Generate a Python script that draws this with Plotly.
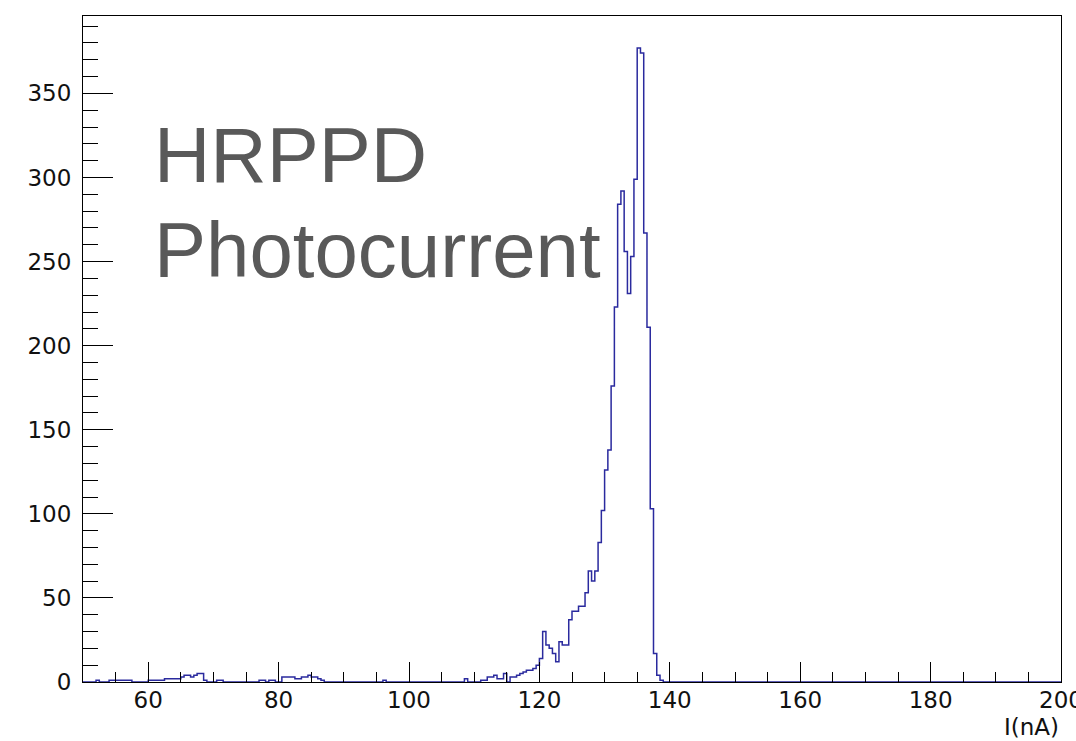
import numpy as np
import plotly.graph_objects as go

# ---- data: histogram of photocurrent, 0.5 nA bins from 50 to 200 ----
x_min, x_max, bin_width = 50.0, 200.0, 0.5

bin_left = [
    52.0, 54.0, 54.5, 55.0, 55.5, 56.0, 56.5, 57.0,
    60.0, 60.5, 61.0, 61.5, 62.0, 62.5, 63.0, 63.5, 64.0, 64.5, 65.0, 65.5,
    66.0, 66.5, 67.0, 67.5, 68.0, 68.5,
    70.5, 71.0,
    77.0, 77.5, 78.5, 79.0,
    80.5, 81.0, 81.5, 82.0, 82.5, 83.0, 83.5, 84.0, 84.5, 85.0, 85.5, 86.0, 86.5,
    96.0,
    108.5,
    111.0, 111.5, 112.0, 112.5, 113.0, 113.5, 114.0, 114.5, 115.0, 115.5,
    116.0, 116.5, 117.0, 117.5, 118.0, 118.5, 119.0, 119.5,
    120.0, 120.5, 121.0, 121.5, 122.0, 122.5, 123.0, 123.5, 124.0, 124.5,
    125.0, 125.5, 126.0, 126.5, 127.0, 127.5, 128.0, 128.5, 129.0, 129.5,
    130.0, 130.5, 131.0, 131.5, 132.0, 132.5, 133.0, 133.5, 134.0, 134.5,
    135.0, 135.5, 136.0, 136.5, 137.0, 137.5, 138.0, 138.5,
]
bin_count = [
    1, 1, 1, 1, 1, 1, 1, 1,
    1, 1, 1, 1, 1, 2, 2, 2, 2, 2, 3, 4,
    4, 3, 4, 5, 5, 1,
    1, 1,
    1, 1, 1, 1,
    3, 3, 3, 3, 2, 2, 3, 3, 4, 3, 3, 2, 1,
    1,
    2,
    1, 1, 3, 3, 4, 2, 2, 5, 0, 3,
    3, 4, 5, 6, 7, 7, 8, 10,
    14, 30, 22, 20, 17, 12, 24, 22, 22, 37,
    42, 42, 45, 45, 53, 66, 60, 66, 83, 102,
    126, 138, 176, 223, 284, 292, 256, 231, 253, 299,
    377, 374, 267, 211, 103, 17, 4, 1,
]

x_major_ticks = [60, 80, 100, 120, 140, 160, 180, 200]
y_major_ticks = [0, 50, 100, 150, 200, 250, 300, 350]

# ---- build full binned histogram ----
n_bins = int(round((x_max - x_min) / bin_width))
edges = x_min + bin_width * np.arange(n_bins + 1)
counts = np.zeros(n_bins)
for xl, c in zip(bin_left, bin_count):
    counts[int(round((xl - x_min) / bin_width))] = c

xs = list(edges[:-1]) + [edges[-1]]
ys = list(counts) + [counts[-1]]

fig = go.Figure()
fig.add_trace(go.Scatter(
    x=xs, y=ys, mode="lines", line_shape="hv",
    line=dict(color="#2a2a9e", width=1.5),
    hoverinfo="skip", showlegend=False,
))

tick_font = dict(family="DejaVu Sans", size=23, color="#111111")

fig.update_layout(
    width=1076, height=741,
    margin=dict(l=83, r=15, t=16, b=59, autoexpand=False),
    paper_bgcolor="white", plot_bgcolor="white",
    showlegend=False,
    xaxis=dict(
        range=[x_min, x_max], tickmode="array", tickvals=x_major_ticks,
        ticks="inside", ticklen=20, tickwidth=1, tickcolor="black",
        minor=dict(dtick=5, tick0=0, ticks="inside", ticklen=10, tickwidth=1, tickcolor="black"),
        showline=True, linecolor="black", linewidth=1, mirror=True,
        showgrid=False, zeroline=False, tickfont=tick_font, automargin=False,
        ticklabelstandoff=-3, ticklabeloverflow="allow",
    ),
    yaxis=dict(
        range=[0, 396], tickmode="array", tickvals=y_major_ticks,
        ticks="inside", ticklen=30, tickwidth=1, tickcolor="black",
        minor=dict(dtick=10, tick0=0, ticks="inside", ticklen=15, tickwidth=1, tickcolor="black"),
        showline=True, linecolor="black", linewidth=1, mirror=True,
        showgrid=False, zeroline=False, tickfont=tick_font, automargin=False,
        ticklabelstandoff=6, ticklabeloverflow="allow",
    ),
    annotations=[
        dict(text="HRPPD", xref="paper", yref="paper", x=0.0706, y=0.791,
             xanchor="left", yanchor="middle", showarrow=False,
             font=dict(family="Liberation Sans", size=78, color="#595959")),
        dict(text="Photocurrent", xref="paper", yref="paper", x=0.0706, y=0.6486,
             xanchor="left", yanchor="middle", showarrow=False,
             font=dict(family="Liberation Sans", size=78, color="#595959")),
        dict(text="I(nA)", xref="paper", yref="paper", x=1.0, y=-0.068,
             xanchor="right", yanchor="middle", showarrow=False,
             font=dict(family="DejaVu Sans", size=23, color="#111111")),
    ],
)

fig.write_html("out.html")
